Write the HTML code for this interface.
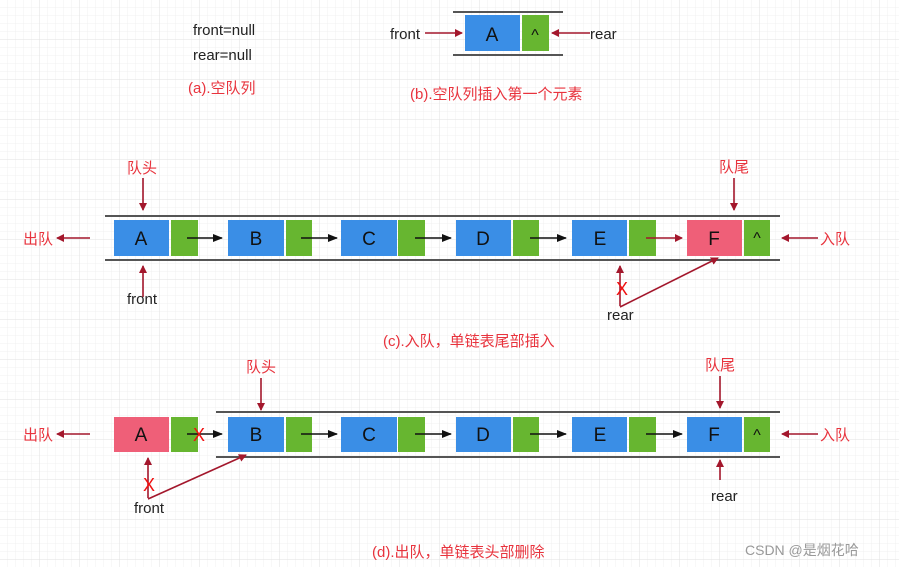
<!DOCTYPE html>
<html><head><meta charset="utf-8"><style>
body{margin:0;background:#fff}
svg text{font-family:"Liberation Sans","Noto Sans CJK SC",sans-serif}
</style></head><body>
<svg width="899" height="567" viewBox="0 0 899 567" xmlns="http://www.w3.org/2000/svg">
<defs>
<pattern id="g" width="8" height="8" patternUnits="userSpaceOnUse"><path d="M8 0V8H0" fill="none" stroke="#f0f0f0" stroke-width="1"/></pattern>
<pattern id="G" width="40" height="40" patternUnits="userSpaceOnUse"><rect width="40" height="40" fill="url(#g)"/><path d="M40 0V40H0" fill="none" stroke="#e2e2e2" stroke-width="1"/></pattern>
<marker id="r" markerWidth="8" markerHeight="8" refX="7" refY="4" orient="auto" markerUnits="userSpaceOnUse"><path d="M0,0L8,4L0,8z" fill="#a3172c"/></marker>
<marker id="k" markerWidth="10" markerHeight="8" refX="9" refY="4" orient="auto" markerUnits="userSpaceOnUse"><path d="M0,0L10,4L0,8z" fill="#111"/></marker>
</defs>
<rect width="899" height="567" fill="url(#G)"/>

<!-- (a) -->
<text x="193" y="35" font-size="15" fill="#222">front=null</text>
<text x="193" y="60" font-size="15" fill="#222">rear=null</text>
<text x="188" y="93" font-size="15" fill="#e8333d">(a).空队列</text>

<!-- (b) -->
<g stroke="#555" stroke-width="2"><line x1="453" y1="12" x2="563" y2="12"/><line x1="453" y1="55" x2="563" y2="55"/></g>
<rect x="465" y="15" width="55" height="36" fill="#3a8ee6"/>
<rect x="522" y="15" width="27" height="36" fill="#67b630"/>
<text x="492" y="41" font-size="19" text-anchor="middle" fill="#111">A</text>
<text x="535" y="40" font-size="16" text-anchor="middle" fill="#111">^</text>
<text x="390" y="39" font-size="15" fill="#222">front</text>
<line x1="425" y1="33" x2="462" y2="33" stroke="#a3172c" stroke-width="1.6" marker-end="url(#r)"/>
<line x1="590" y1="33" x2="552" y2="33" stroke="#a3172c" stroke-width="1.6" marker-end="url(#r)"/>
<text x="590" y="39" font-size="15" fill="#222">rear</text>
<text x="410" y="99" font-size="15" fill="#e8333d">(b).空队列插入第一个元素</text>

<!-- (c) -->
<g stroke="#555" stroke-width="2"><line x1="105" y1="216" x2="780" y2="216"/><line x1="105" y1="260" x2="780" y2="260"/></g>
<g font-size="19" text-anchor="middle" fill="#111">
<rect x="114" y="220" width="55" height="36" fill="#3a8ee6"/><rect x="171" y="220" width="27" height="36" fill="#67b630"/><text x="141" y="245">A</text>
<rect x="228" y="220" width="56" height="36" fill="#3a8ee6"/><rect x="286" y="220" width="26" height="36" fill="#67b630"/><text x="256" y="245">B</text>
<rect x="341" y="220" width="56" height="36" fill="#3a8ee6"/><rect x="398" y="220" width="27" height="36" fill="#67b630"/><text x="369" y="245">C</text>
<rect x="456" y="220" width="55" height="36" fill="#3a8ee6"/><rect x="513" y="220" width="26" height="36" fill="#67b630"/><text x="483" y="245">D</text>
<rect x="572" y="220" width="55" height="36" fill="#3a8ee6"/><rect x="629" y="220" width="27" height="36" fill="#67b630"/><text x="600" y="245">E</text>
<rect x="687" y="220" width="55" height="36" fill="#ef5f78"/><rect x="744" y="220" width="26" height="36" fill="#67b630"/><text x="714" y="245">F</text>
<text x="757" y="243" font-size="16">^</text>
</g>
<g stroke="#111" stroke-width="1.5" marker-end="url(#k)">
<line x1="187" y1="238" x2="222" y2="238"/><line x1="301" y1="238" x2="337" y2="238"/><line x1="415" y1="238" x2="451" y2="238"/><line x1="530" y1="238" x2="566" y2="238"/>
</g>
<g stroke="#a3172c" stroke-width="1.6" marker-end="url(#r)">
<line x1="646" y1="238" x2="682" y2="238"/>
<line x1="90" y1="238" x2="57" y2="238"/>
<line x1="818" y1="238" x2="782" y2="238"/>
<line x1="143" y1="178" x2="143" y2="210"/>
<line x1="143" y1="297" x2="143" y2="266"/>
<line x1="734" y1="178" x2="734" y2="210"/>
<line x1="620" y1="306" x2="620" y2="266"/>
<line x1="620" y1="307" x2="718" y2="258"/>
</g>
<g font-size="15" fill="#e8333d">
<text x="23" y="244">出队</text><text x="820" y="244">入队</text>
<text x="127" y="173">队头</text><text x="719" y="172">队尾</text>
<text x="616" y="295" font-size="18" fill="#f01010">X</text>
</g>
<text x="127" y="304" font-size="15" fill="#222">front</text>
<text x="607" y="320" font-size="15" fill="#222">rear</text>
<text x="383" y="346" font-size="15" fill="#e8333d">(c).入队，单链表尾部插入</text>

<!-- (d) -->
<g stroke="#555" stroke-width="2"><line x1="216" y1="412" x2="780" y2="412"/><line x1="216" y1="457" x2="780" y2="457"/></g>
<g font-size="19" text-anchor="middle" fill="#111">
<rect x="114" y="417" width="55" height="35" fill="#ef5f78"/><rect x="171" y="417" width="27" height="35" fill="#67b630"/><text x="141" y="441">A</text>
<rect x="228" y="417" width="56" height="35" fill="#3a8ee6"/><rect x="286" y="417" width="26" height="35" fill="#67b630"/><text x="256" y="441">B</text>
<rect x="341" y="417" width="56" height="35" fill="#3a8ee6"/><rect x="398" y="417" width="27" height="35" fill="#67b630"/><text x="369" y="441">C</text>
<rect x="456" y="417" width="55" height="35" fill="#3a8ee6"/><rect x="513" y="417" width="26" height="35" fill="#67b630"/><text x="483" y="441">D</text>
<rect x="572" y="417" width="55" height="35" fill="#3a8ee6"/><rect x="629" y="417" width="27" height="35" fill="#67b630"/><text x="600" y="441">E</text>
<rect x="687" y="417" width="55" height="35" fill="#3a8ee6"/><rect x="744" y="417" width="26" height="35" fill="#67b630"/><text x="714" y="441">F</text>
<text x="757" y="440" font-size="16">^</text>
</g>
<g stroke="#111" stroke-width="1.5" marker-end="url(#k)">
<line x1="187" y1="434" x2="222" y2="434"/><line x1="301" y1="434" x2="337" y2="434"/><line x1="415" y1="434" x2="451" y2="434"/><line x1="530" y1="434" x2="566" y2="434"/><line x1="646" y1="434" x2="682" y2="434"/>
</g>
<g stroke="#a3172c" stroke-width="1.6" marker-end="url(#r)">
<line x1="90" y1="434" x2="57" y2="434"/>
<line x1="818" y1="434" x2="782" y2="434"/>
<line x1="261" y1="378" x2="261" y2="410"/>
<line x1="720" y1="376" x2="720" y2="408"/>
<line x1="720" y1="480" x2="720" y2="460"/>
<line x1="148" y1="498" x2="148" y2="458"/>
<line x1="148" y1="499" x2="246" y2="455"/>
</g>
<g font-size="15" fill="#e8333d">
<text x="23" y="440">出队</text><text x="820" y="440">入队</text>
<text x="246" y="372">队头</text><text x="705" y="370">队尾</text>
<text x="193" y="441" font-size="18" fill="#f01010">X</text>
<text x="143" y="491" font-size="18" fill="#f01010">X</text>
</g>
<text x="134" y="513" font-size="15" fill="#222">front</text>
<text x="711" y="501" font-size="15" fill="#222">rear</text>
<text x="372" y="557" font-size="15" fill="#e8333d">(d).出队，单链表头部删除</text>
<text x="745" y="555" font-size="14" fill="#999">CSDN @是烟花哈</text>
</svg>
</body></html>
